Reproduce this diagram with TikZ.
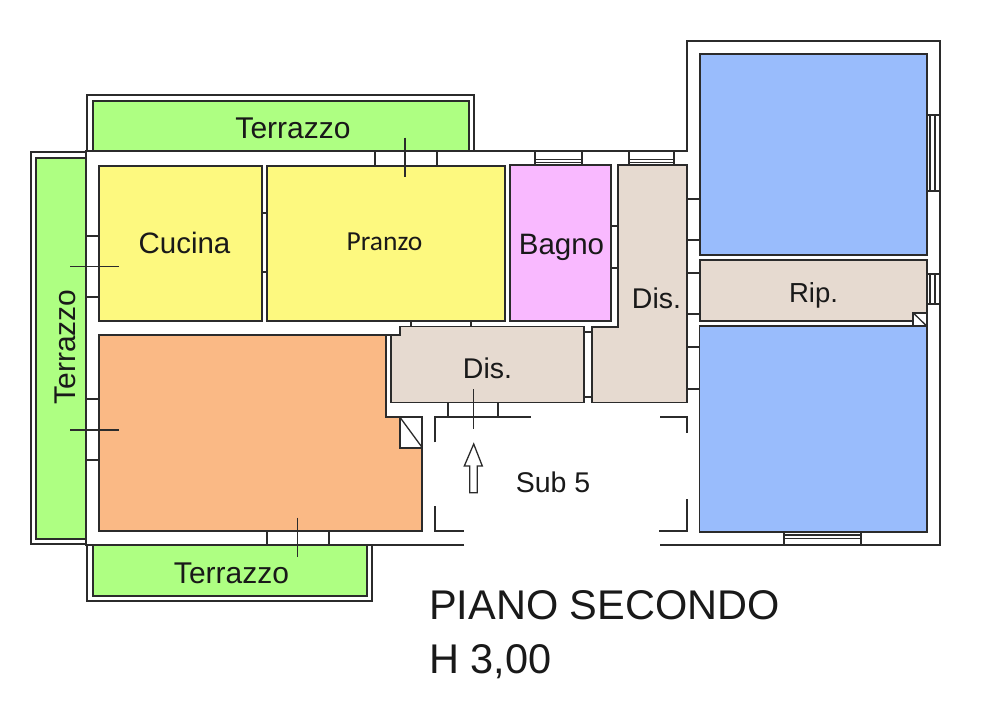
\documentclass[tikz,border=0pt]{standalone}
\usepackage{fontspec}
\setmainfont{Liberation Sans}
\newfontfamily\calfont{Carlito}
\definecolor{terr}{HTML}{AEFF82}
\definecolor{cuc}{HTML}{FDF97F}
\definecolor{org}{HTML}{FAB985}
\definecolor{beig}{HTML}{E6DAD0}
\definecolor{blu}{HTML}{99BCFC}
\definecolor{pnk}{HTML}{F9B9FF}
\definecolor{ink}{HTML}{2B2B2B}
\tikzset{
  wall/.style={draw=ink,line width=1.8pt,line join=miter},
  thin wall/.style={draw=ink,line width=1.3pt},
  lab/.style={inner sep=0pt,anchor=base,text=black!90},
  sz30/.style={font=\fontsize{30}{31}\selectfont},
  sz29/.style={font=\fontsize{29.5}{31}\selectfont},
  sz28/.style={font=\fontsize{28.5}{30}\selectfont},
  sz41/.style={font=\fontsize{41.5}{44}\selectfont},
}
\begin{document}
\begin{tikzpicture}[x=1pt,y=-1pt]
\useasboundingbox (0,0) rectangle (1000,720);
\fill[white] (0,0) rectangle (1000,720);
% terraces
\draw[wall] (87.3,151) -- (87.3,95.3) -- (473.7,95.3) -- (473.7,151);
\draw[wall,fill=terr] (92.7,151) -- (92.7,100.7) -- (469,100.7) -- (469,151);
\draw[wall] (86,152.3) -- (30.7,152.3) -- (30.7,544) -- (86,544);
\draw[wall,fill=terr] (86,157.7) -- (35.7,157.7) -- (35.7,539) -- (86,539);
\draw[wall] (87.3,545) -- (87.3,601) -- (371.7,601) -- (371.7,545);
\draw[wall,fill=terr] (92.7,545) -- (92.7,596) -- (366.7,596) -- (366.7,545);
% outer walls
\draw[wall] (464,545.3) -- (86,545.3) -- (86,151) -- (686.7,151) -- (686.7,40.7) -- (939.7,40.7) -- (939.7,545.3) -- (660,545.3);
% rooms
\draw[wall,fill=cuc] (99,165.7) rectangle (262.3,320.7);
\draw[wall,fill=cuc] (266.7,165.7) rectangle (505.3,320.7);
\draw[wall,fill=pnk] (510.3,165.3) rectangle (611.3,321);
\draw[wall,fill=org] (99,335.3) -- (386,335.3) -- (386,417.3) -- (422.3,417.3) -- (422.3,531) -- (99,531) -- cycle;
\draw[wall,fill=white] (400,417.3) rectangle (422.3,447.7);
\draw[thin wall] (400,417.3) -- (422.3,447.7);
\draw[wall,fill=beig] (391,335.3) -- (400.3,335.3) -- (400.3,326.5) -- (584,326.5) -- (584,402.5) -- (391,402.5) -- cycle;
\draw[wall] (386,335.3) -- (400.3,335.3);
\draw[wall,fill=beig] (592,326.7) -- (618,326.7) -- (618,165.3) -- (686.7,165.3) -- (686.7,402.5) -- (592,402.5) -- cycle;
\draw[wall,fill=blu] (699.7,53.7) rectangle (926.7,255);
\draw[wall,fill=beig] (699.7,260) rectangle (926.7,321);
\draw[wall,fill=blu] (699.5,326) rectangle (926.7,532);
\draw[wall,fill=white] (913.3,313) rectangle (926.7,326);
\draw[thin wall] (913.3,313) -- (926.7,326);
% wall ticks
\foreach \y in {236.3,297.3,398.7,459.7} \draw[wall] (86,\y) -- (99,\y);
\foreach \y in {213.3,271.7} \draw[wall] (262.3,\y) -- (266.7,\y);
\foreach \y in {226.3,267.7} \draw[wall] (611.3,\y) -- (618,\y);
\foreach \y in {332.3,396.7} \draw[wall] (584,\y) -- (592,\y);
\foreach \y in {199,240.3,273,314.3,347,388.7} \draw[wall] (686.7,\y) -- (699.7,\y);
\foreach \x in {375.3,436.7} \draw[wall] (\x,151) -- (\x,165.7);
\foreach \x in {410.7,471.3} \draw[wall] (\x,320.7) -- (\x,326.5);
\foreach \x in {267.3,329} \draw[wall] (\x,531) -- (\x,545.3);
\foreach \x in {448,498.3} \draw[wall] (\x,402.5) -- (\x,417);
% windows
\foreach \a/\b in {535/581.7,628.7/673.7} {
  \draw[wall] (\a,151) -- (\a,165.3) (\b,151) -- (\b,165.3);
  \draw[thin wall] (\a,159.3) -- (\b,159.3) (\a,162.7) -- (\b,162.7);
}
\foreach \a/\b in {115/191.3,274.3/304.3} {
  \draw[wall] (926.7,\a) -- (939.7,\a) (926.7,\b) -- (939.7,\b);
  \draw[thin wall] (930,\a) -- (930,\b) (935,\a) -- (935,\b);
}
\draw[wall] (784,532) -- (784,545.3) (860.7,532) -- (860.7,545.3);
\draw[thin wall] (784,535) -- (860.7,535) (784,538.7) -- (860.7,538.7);
% sub 5 outline
\draw[wall] (435,442.3) -- (435,417) -- (531,417);
\draw[wall] (435,506) -- (435,531) -- (464,531);
\draw[wall] (660,417) -- (686.7,417) -- (686.7,433.3);
\draw[wall] (686.7,499.3) -- (686.7,531) -- (659,531);
% crosses
\foreach \y in {266.3,430} \draw[thin wall] (70,\y) -- (119.3,\y);
\draw[thin wall] (405,137.7) -- (405,177.3);
\draw[thin wall] (297.7,517.7) -- (297.7,557.3);
\draw[thin wall] (473.7,389.3) -- (473.7,429);
% arrow
\draw[thin wall,line join=miter] (473.7,444) -- (482.3,466) -- (477.3,466) -- (477.3,492.7) -- (469.7,492.7) -- (469.7,466) -- (464.3,466) -- cycle;
% labels
\node[lab,sz30] (terrtop) at (293,138) {Terrazzo};
\node[lab,sz30,rotate=90] (terrleft) at (75,347) {Terrazzo};
\node[lab,sz30] (terrbot) at (231.5,583) {Terrazzo};
\node[lab,sz29] (cucina) at (184.5,253.3) {Cucina};
\node[lab,font=\calfont\fontsize{27.5}{29}\selectfont] (pranzo) at (384.5,250.7) {Pranzo};
\node[lab,sz29] (bagno) at (561.5,254) {Bagno};
\node[lab,sz28] (dis1) at (487.5,378) {Dis.};
\node[lab,sz28] (dis2) at (656.5,308) {Dis.};
\node[lab,font=\fontsize{27.5}{29}\selectfont] (rip) at (813.5,302.7) {Rip.};
\node[lab,sz28] (sub) at (553,492.3) {Sub 5};
\node[lab,sz41,anchor=base west] (piano) at (429,619) {PIANO SECONDO};
\node[lab,sz41,anchor=base west] (quota) at (429,673) {H 3,00};
\end{tikzpicture}
\end{document}
